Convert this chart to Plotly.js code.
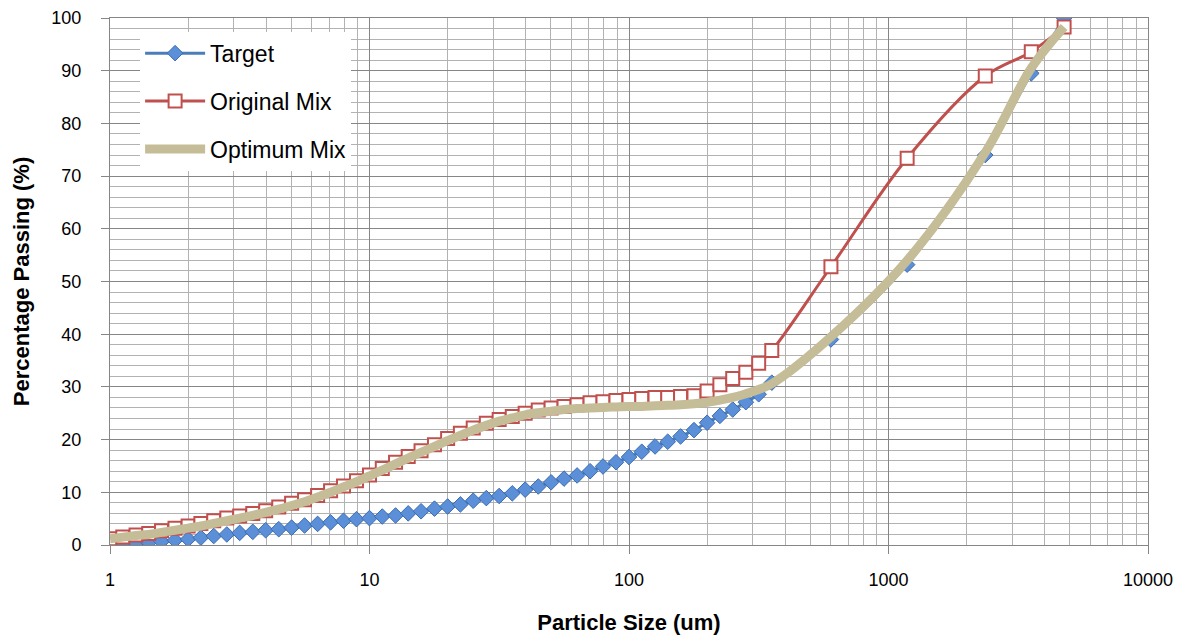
<!DOCTYPE html>
<html>
<head>
<meta charset="utf-8">
<script src="https://cdn.plot.ly/plotly-3.0.1.min.js"></script>
<style>html,body{margin:0;padding:0;background:#fff;}#chart{width:1191px;height:639px;}</style>
</head>
<body>
<div id="chart"></div>
<script>
// Particle sizes (um)
const sizes = [1, 1.12, 1.26, 1.41, 1.58, 1.78, 2, 2.24, 2.51, 2.82,
  3.16, 3.55, 3.98, 4.47, 5.01, 5.62, 6.31, 7.08, 7.94, 8.91,
  10, 11.2, 12.6, 14.1, 15.8, 17.8, 20, 22.4, 25.1, 28.2,
  31.6, 35.5, 39.8, 44.7, 50.1, 56.2, 63.1, 70.8, 79.4, 89.1,
  100, 112, 126, 141, 158, 178, 200, 224, 251, 282,
  316, 355, 600, 1180, 2360, 3550, 4750];

const target = [0, 0.15, 0.3, 0.45, 0.65, 0.9, 1.1, 1.4, 1.7, 2.0,
  2.3, 2.5, 2.8, 3.0, 3.3, 3.7, 4.0, 4.3, 4.6, 4.9,
  5.1, 5.4, 5.6, 6.0, 6.4, 6.9, 7.3, 7.7, 8.4, 8.9,
  9.3, 9.8, 10.5, 11.1, 11.9, 12.6, 13.2, 14.0, 14.9, 15.7,
  16.7, 17.7, 18.7, 19.6, 20.6, 21.8, 23.2, 24.5, 25.7, 27.1,
  28.6, 30.8, 39, 53.2, 74, 89.5, 100];

const originalMix = [1.2, 1.5, 1.9, 2.2, 2.7, 3.2, 3.6, 4.1, 4.6, 5.1,
  5.5, 6.0, 6.5, 7.2, 7.9, 8.6, 9.4, 10.3, 11.2, 12.2,
  13.3, 14.5, 15.7, 16.8, 17.9, 19.0, 20.2, 21.2, 22.2, 23.1,
  23.8, 24.4, 25.0, 25.6, 26.0, 26.3, 26.6, 27.0, 27.2, 27.4,
  27.6, 27.8, 28.0, 28.0, 28.2, 28.3, 29.2, 30.4, 31.6, 32.8,
  34.5, 36.9, 52.8, 73.4, 89.0, 93.6, 98.3];

const optimumMix = [1.2, 1.5, 1.8, 2.0, 2.4, 2.8, 3.2, 3.6, 4.1, 4.6,
  5.1, 5.6, 6.2, 6.8, 7.5, 8.2, 9.1, 10.0, 11.0, 12.0,
  13.1, 14.2, 15.4, 16.5, 17.6, 18.7, 19.8, 20.8, 21.8, 22.7,
  23.5, 24.1, 24.7, 25.1, 25.4, 25.7, 25.9, 26.0, 26.1, 26.2,
  26.3, 26.3, 26.4, 26.5, 26.6, 26.8, 27.1, 27.5, 28.0, 28.7,
  29.5, 30.6, 39.5, 54.0, 74.5, 90.5, 98.3];

const xTicks = [1, 10, 100, 1000, 10000];
const xTickText = ['1', '10', '100', '1000', '10000'];

const FONT = '"Liberation Sans", Arial, sans-serif';

const traces = [
  {
    x: sizes, y: target, name: 'Target', type: 'scatter', mode: 'lines+markers',
    legendgroup: 'a',
    line: {color: '#4A7EBB', width: 3, shape: 'spline', smoothing: 1},
    marker: {symbol: 'diamond', size: 12, color: '#5B8FD8', line: {color: '#3B6CB0', width: 1}}
  },
  {
    x: sizes, y: originalMix, name: 'Original Mix', type: 'scatter', mode: 'lines+markers',
    legendgroup: 'b',
    line: {color: '#C0504D', width: 3, shape: 'spline', smoothing: 1},
    marker: {symbol: 'square', size: 13, color: '#FFFFFF', line: {color: '#C0504D', width: 2}}
  },
  {
    x: sizes, y: optimumMix, name: 'Optimum Mix', type: 'scatter', mode: 'lines',
    legendgroup: 'c',
    line: {color: '#C4BD97', width: 9, shape: 'spline', smoothing: 1}
  }
];

const layout = {
  width: 1191, height: 639,
  margin: {l: 110, r: 43, t: 18, b: 94},
  paper_bgcolor: '#FFFFFF', plot_bgcolor: '#FFFFFF',
  font: {family: FONT, size: 18, color: '#000000'},
  showlegend: true,
  legend: {
    x: 0.029, y: 0.974, xanchor: 'left', yanchor: 'top',
    bgcolor: '#FFFFFF', borderwidth: 0,
    font: {family: FONT, size: 23, color: '#000000'},
    traceorder: 'grouped', tracegroupgap: 15, itemwidth: 60
  },
  xaxis: {
    type: 'log', range: [0, 4],
    tickvals: xTicks, ticktext: xTickText,
    ticks: 'outside', ticklen: 8, tickcolor: '#868686', tickwidth: 1,
    ticklabelstandoff: 10,
    showgrid: true, gridcolor: '#868686', gridwidth: 1,
    minor: {dtick: 'D1', showgrid: true, gridcolor: '#B2B2B2', gridwidth: 1, ticks: ''},
    showline: true, linecolor: '#868686', linewidth: 1, mirror: true,
    zeroline: false,
    tickfont: {family: FONT, size: 18, color: '#000000'},
    title: {text: '<b>Particle Size (um)</b>', font: {family: FONT, size: 22, color: '#000000'}, standoff: 26}
  },
  yaxis: {
    range: [0, 100], dtick: 10, tick0: 0,
    ticks: 'outside', ticklen: 8, tickcolor: '#868686', tickwidth: 1,
    ticklabelstandoff: 16,
    showgrid: true, gridcolor: '#868686', gridwidth: 1,
    minor: {dtick: 2, showgrid: true, gridcolor: '#B2B2B2', gridwidth: 1, ticks: ''},
    showline: true, linecolor: '#868686', linewidth: 1, mirror: true,
    zeroline: false,
    tickfont: {family: FONT, size: 18, color: '#000000'},
    title: {text: '<b>Percentage Passing (%)</b>', font: {family: FONT, size: 22, color: '#000000'}, standoff: 15}
  }
};

Plotly.newPlot('chart', traces, layout, {displayModeBar: false, staticPlot: true});
</script>
</body>
</html>
